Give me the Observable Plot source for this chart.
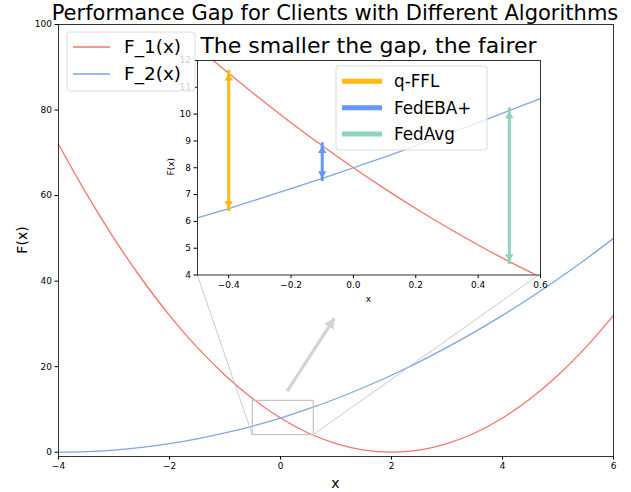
<!DOCTYPE html>
<html><head><meta charset="utf-8">
<script src="https://cdn.jsdelivr.net/npm/d3@7"></script>
<script src="https://cdn.jsdelivr.net/npm/@observablehq/plot@0.6"></script>
<style>
body{margin:0;background:white;}
#wrap{position:relative;width:631px;height:492px;font-family:"DejaVu Sans",sans-serif;overflow:hidden;background:white}
#wrap svg{position:absolute;}
</style></head><body><div id="wrap"></div>
<script>
// ---- data ----
const xMain  = [-4,-3.5,-3,-2.5,-2,-1.5,-1,-0.5,0,0.5,1,1.5,2,2.5,3,3.5,4,4.5,5,5.5,6];
const f1Main = [72,60.5,50,40.5,32,24.5,18,12.5,8,4.5,2,0.5,0,0.5,2,4.5,8,12.5,18,24.5,32];
const f2Main = [0,0.13,0.5,1.13,2,3.13,4.5,6.13,8,10.13,12.5,15.13,18,21.13,24.5,28.13,32,36.13,40.5,45.13,50];
const xInset  = [-0.5,-0.4,-0.3,-0.2,-0.1,0,0.1,0.2,0.3,0.4,0.5,0.6];
const f1Inset = [12.5,11.52,10.58,9.68,8.82,8,7.22,6.48,5.78,5.12,4.5,3.92];
const f2Inset = [6.13,6.48,6.85,7.22,7.6,8,8.4,8.82,9.25,9.68,10.13,10.58];
const seriesNames  = ["F_1(x)","F_2(x)"];
const seriesColors = ["#F8736A","#7EA6E0"];
const algorithms = ["q-FFL","FedEBA+","FedAvg"];
const algoColors = ["#FFB812","#6398F8","#8ED3BF"];
const gapX    = [-0.4,-0.1,0.5];
const gapLow  = [6.48,7.6,4.5];
const gapHigh = [11.52,8.82,10.12];
const mainXTicks  = [-4,-2,0,2,4,6];
const mainYTicks  = [0,20,40,60,80,100];
const insetXTicks = [-0.4,-0.2,0,0.2,0.4,0.6];
const insetYTicks = [4,5,6,7,8,9,10,11,12];
const zoomX = [-0.5,0.6];
const zoomY = [4,12];
const hintFrom = [0.12,14.3];
const hintTo   = [0.97,31.3];
const titleText = "Performance Gap for Clients with Different Algorithms";
const insetTitle = "The smaller the gap, the fairer";

// ---- build ----
const wrap = document.getElementById("wrap");
const W = 631, H = 492;
const MM = {left: 58, right: 18, top: 24, bottom: 36};
const mainXDomain = [-4,6], mainYDomain = [-1,100];
const mainData = xMain.flatMap((x,i)=>[{x,y:f1Main[i],s:seriesNames[0]},{x,y:f2Main[i],s:seriesNames[1]}]);

// direction of the hint arrow in pixel space (for the filled head)
const kx = (W - MM.left - MM.right) / (mainXDomain[1] - mainXDomain[0]);
const ky = (H - MM.top - MM.bottom) / (mainYDomain[1] - mainYDomain[0]);
const pdx = (hintTo[0] - hintFrom[0]) * kx, pdy = (hintTo[1] - hintFrom[1]) * ky;
const theta = Math.atan2(pdx, pdy); // clockwise from up
const headR = 4.2, tipOff = 2 * Math.sqrt(Math.PI * headR * headR / (Math.sqrt(3) * 3));

const mainPlot = Plot.plot({
  width: W, height: H,
  marginLeft: MM.left, marginRight: MM.right, marginTop: MM.top, marginBottom: MM.bottom,
  style: {fontFamily: "DejaVu Sans", fontSize: "9px", background: "transparent", color: "black"},
  x: {domain: mainXDomain, ticks: mainXTicks, tickSize: 3.5, tickPadding: 3, label: null},
  y: {domain: mainYDomain, ticks: mainYTicks, tickSize: 3.5, tickPadding: 3, label: null},
  color: {domain: seriesNames, range: seriesColors},
  marks: [
    Plot.line(mainData, {x: "x", y: "y", z: "s", stroke: "s", strokeWidth: 1.3, curve: "catmull-rom"}),
    Plot.rect([{x1: zoomX[0], x2: zoomX[1], y1: zoomY[0], y2: zoomY[1]}],
      {x1: "x1", x2: "x2", y1: "y1", y2: "y2", fill: "none", stroke: "#c4c4c4", strokeWidth: 1.2}),
    Plot.link([{x1: hintFrom[0], y1: hintFrom[1], x2: hintTo[0], y2: hintTo[1]}],
      {x1: "x1", y1: "y1", x2: "x2", y2: "y2", stroke: "#d3d3d3", strokeWidth: 3.2}),
    Plot.dot([{x: hintTo[0], y: hintTo[1]}],
      {x: "x", y: "y", symbol: "triangle", r: headR, fill: "#d3d3d3", stroke: "none",
       rotate: theta * 180 / Math.PI, dx: -tipOff * Math.sin(theta), dy: tipOff * Math.cos(theta)}),
    Plot.frame({stroke: "black", strokeWidth: 0.8})
  ]
});
mainPlot.style.left = "0px"; mainPlot.style.top = "0px";
wrap.appendChild(mainPlot);

// inset geometry (page px)
const IL = 197, IR = 540, IT = 59.5, IB = 274;
const im = {left: 40, right: 14, top: 4, bottom: 34};

// connectors (under inset)
const xs = mainPlot.scale("x"), ys = mainPlot.scale("y");
const conn = d3.create("svg").attr("width", W).attr("height", H).style("left","0px").style("top","0px");
conn.append("line").attr("x1", xs.apply(zoomX[0])).attr("y1", ys.apply(zoomY[0])).attr("x2", IL).attr("y2", IB)
  .attr("stroke", "#c4c4c4").attr("stroke-width", 0.9);
conn.append("line").attr("x1", xs.apply(zoomX[1])).attr("y1", ys.apply(zoomY[0])).attr("x2", IR).attr("y2", IB)
  .attr("stroke", "#c4c4c4").attr("stroke-width", 0.9);
wrap.appendChild(conn.node());

const insetData = xInset.flatMap((x,i)=>[{x,y:f1Inset[i],s:seriesNames[0]},{x,y:f2Inset[i],s:seriesNames[1]}]);
const gaps = algorithms.map((a,i)=>({a, x: gapX[i], lo: gapLow[i], hi: gapHigh[i]}));
const tipR = 3.1, tipOff2 = 2 * Math.sqrt(Math.PI * tipR * tipR / (Math.sqrt(3) * 3));

const insetPlot = Plot.plot({
  width: (IR-IL) + im.left + im.right, height: (IB-IT) + im.top + im.bottom,
  marginLeft: im.left, marginRight: im.right, marginTop: im.top, marginBottom: im.bottom,
  style: {fontFamily: "DejaVu Sans", fontSize: "9px", background: "transparent", color: "black", overflow: "visible"},
  x: {domain: zoomX, ticks: insetXTicks, tickFormat: d3.format(".1f"), tickSize: 3.5, tickPadding: 3, label: null},
  y: {domain: zoomY, ticks: insetYTicks, tickSize: 3.5, tickPadding: 3, label: null},
  color: {domain: seriesNames.concat(algorithms), range: seriesColors.concat(algoColors)},
  marks: [
    Plot.frame({fill: "white"}),
    Plot.line(insetData, {x: "x", y: "y", z: "s", stroke: "s", strokeWidth: 1.3, curve: "catmull-rom", clip: true}),
    Plot.ruleX(gaps, {x: "x", y1: (d) => d.lo, y2: (d) => d.hi, stroke: "a", strokeWidth: 3, insetTop: 3, insetBottom: 3}),
    Plot.dot(gaps, {x: "x", y: "hi", symbol: "triangle", r: tipR, fill: "a", stroke: "none", dy: tipOff2}),
    Plot.dot(gaps, {x: "x", y: "lo", symbol: "triangle", r: tipR, fill: "a", stroke: "none", rotate: 180, dy: -tipOff2}),
    Plot.frame({stroke: "black", strokeWidth: 0.8})
  ]
});
insetPlot.style.left = (IL - im.left) + "px"; insetPlot.style.top = (IT - im.top) + "px";
wrap.appendChild(insetPlot);

// top overlay: titles, axis labels, legends
const overlay = d3.create("svg").attr("width", W).attr("height", H).style("left","0px").style("top","0px")
  .attr("font-family", "DejaVu Sans").style("overflow","visible");
overlay.append("text").attr("x", 335).attr("y", 20).attr("text-anchor","middle").attr("font-size", 21).text(titleText);
overlay.append("text").attr("x", (IL+IR)/2).attr("y", 53).attr("text-anchor","middle").attr("font-size", 22).text(insetTitle);
overlay.append("text").attr("x", 335.5).attr("y", 488).attr("text-anchor","middle").attr("font-size", 14).text("x");
overlay.append("text").attr("transform", "translate(27,240) rotate(-90)").attr("text-anchor","middle").attr("font-size", 14).text("F(x)");
overlay.append("text").attr("x", (IL+IR)/2).attr("y", 302).attr("text-anchor","middle").attr("font-size", 9).text("x");
overlay.append("text").attr("transform", `translate(174,${(IT+IB)/2}) rotate(-90)`).attr("text-anchor","middle").attr("font-size", 9).text("F(x)");

// main legend
const lg1 = overlay.append("g");
lg1.append("rect").attr("x", 67).attr("y", 32).attr("width", 128).attr("height", 59).attr("rx", 3)
  .attr("fill", "white").attr("fill-opacity", 0.8).attr("stroke", "#d6d6d6").attr("stroke-width", 0.9);
seriesNames.forEach((n,i)=>{
  const yy = 47 + i*27;
  lg1.append("line").attr("x1", 73).attr("x2", 110).attr("y1", yy).attr("y2", yy).attr("stroke", seriesColors[i]).attr("stroke-width", 1.3);
  lg1.append("text").attr("x", 124).attr("y", yy).attr("dy", "0.35em").attr("font-size", 18.5).text(n);
});
// inset legend
const lg2 = overlay.append("g");
lg2.append("rect").attr("x", 336).attr("y", 66).attr("width", 151).attr("height", 84).attr("rx", 3)
  .attr("fill", "white").attr("fill-opacity", 0.8).attr("stroke", "#d6d6d6").attr("stroke-width", 0.9);
algorithms.forEach((n,i)=>{
  const yy = 81.3 + i*26.4;
  lg2.append("line").attr("x1", 342).attr("x2", 382).attr("y1", yy).attr("y2", yy).attr("stroke", algoColors[i]).attr("stroke-width", 5);
  lg2.append("text").attr("x", 394).attr("y", yy).attr("dy", "0.35em").attr("font-size", 16.8).text(n);
});
wrap.appendChild(overlay.node());
</script></body></html>
